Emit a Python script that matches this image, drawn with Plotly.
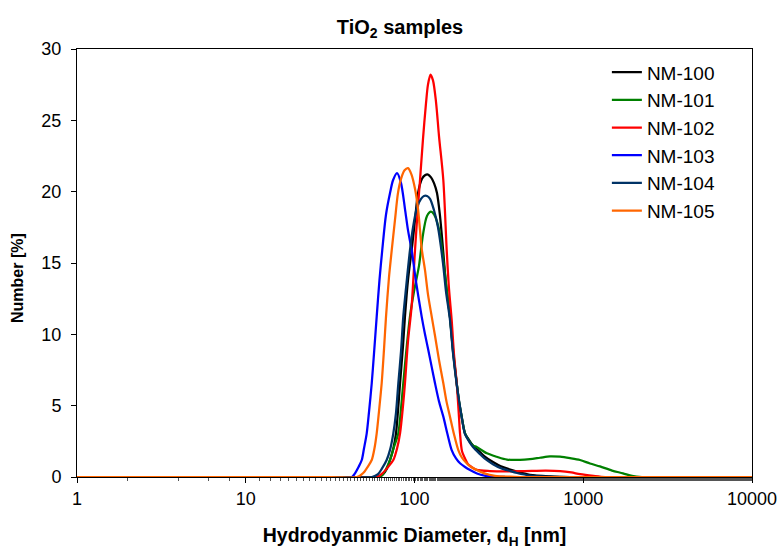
import plotly.graph_objects as go

# Hydrodynamic diameter (nm) and number distribution (%) for each TiO2 sample
nm100_d = [1, 40, 60.0, 65.1, 68.7, 71.6, 74.9, 77.7, 79.8, 82.1, 85.5, 87.8, 91.5, 96.2, 100.7, 104.9,
           110.8, 115.4, 120.2, 125.3, 130.5, 135.9, 141.6, 147.5, 153.7, 162.3, 169.1, 177.9, 183.5,
           190.4, 199.2, 210.4, 222.2, 244.4, 260.0, 291.8, 325.0, 405.0, 483.0, 635.0, 835.0, 1200,
           10000]
nm100_n = [0, 0, 0, 0.2, 0.6, 1.19, 2.0, 3.06, 4.6, 6.57, 9.2, 11.24, 13.8, 15.9, 18.0, 19.9,
           20.9, 21.15, 21.2, 21.0, 20.6, 19.9, 18.3, 16.0, 13.5, 11.2, 8.8, 6.57, 5.3,
           4.23, 3.06, 2.6, 2.2, 1.75, 1.45, 1.05, 0.75, 0.38, 0.15, 0.04, 0, 0,
           0]

nm101_d = [1, 45, 62.4, 66.0, 71.6, 75.6, 80.2, 83.2, 85.8, 89.7, 94.0, 99.3, 106.3, 112.3, 118.6, 125.3,
           130.5, 135.9, 141.6, 149.6, 155.8, 162.3, 169.1, 177.9, 183.5, 190.4, 199.2, 210.4, 222.2,
           233.7, 268.6, 307.0, 353.0, 422.0, 483.0, 554.0, 635.0, 728.0, 835.0, 957.0, 1096, 1257,
           1481, 1720, 1945, 2229, 3000, 10000]
nm101_n = [0, 0, 0, 0.3, 1.19, 2.1, 3.06, 4.8, 6.57, 9.0, 11.24, 13.0, 14.8, 17.0, 18.3, 18.6,
           18.4, 17.9, 17.0, 14.8, 13.0, 11.24, 9.0, 6.57, 5.3, 4.23, 3.06, 2.55, 2.2,
           2.1, 1.66, 1.42, 1.22, 1.2, 1.25, 1.35, 1.45, 1.42, 1.32, 1.19, 0.95, 0.74,
           0.45, 0.26, 0.08, 0, 0, 0]

nm102_d = [1, 40, 60.0, 65.1, 69.7, 74.9, 78.8, 82.1, 85.5, 87.8, 91.5, 96.2, 100.7, 104.9, 107.8, 112.3,
           117.0, 120.2, 124.4, 128.7, 134.1, 139.7, 148.2, 155.2, 160.1, 166.1, 171.4, 177.9, 183.5,
           186.1, 191.2, 199.2, 207.5, 218.0, 234.0, 280.0, 350.0, 450.0, 600.0, 730.0, 850.0, 957.0,
           1150, 1350, 1800, 10000]
nm102_n = [0, 0, 0, 0.3, 0.7, 1.19, 2.0, 3.06, 5.0, 6.57, 9.5, 12.0, 15.9, 19.0, 20.8, 23.7,
           26.2, 27.5, 28.2, 27.8, 26.3, 23.9, 20.8, 15.9, 13.2, 11.0, 8.6, 6.57, 4.2,
           3.06, 1.8, 1.3, 0.9, 0.7, 0.5, 0.42, 0.4, 0.42, 0.45, 0.42, 0.32, 0.2,
           0.08, 0, 0, 0]

nm103_d = [1, 30, 42.6, 44.4, 46.6, 48.7, 50.2, 52.1, 53.8, 55.8, 57.5, 59.7, 62.0, 64.4, 67.8, 71.6,
           74.6, 78.8, 83.2, 87.8, 91.5, 96.2, 102.1, 110.3, 115.4, 120.7, 126.5, 132.3, 139.7,
           148.2, 156.9, 166.1, 176.2, 186.1, 199.2, 213.3, 234.6, 260.0, 300.0, 345.0, 500, 10000]
nm103_n = [0, 0, 0, 0.26, 0.7, 1.19, 2.0, 3.06, 4.6, 6.57, 8.6, 11.24, 13.8, 15.9, 18.4, 19.9,
           20.8, 21.3, 20.6, 18.8, 17.3, 15.9, 13.7, 11.24, 10.0, 8.9, 7.7, 6.57, 5.3,
           4.23, 3.0, 1.89, 1.3, 0.96, 0.7, 0.49, 0.25, 0.1, 0.02, 0, 0, 0]

nm104_d = [1, 38, 56.0, 60.8, 64.2, 68.4, 71.6, 74.9, 77.7, 80.2, 83.2, 85.8, 89.0, 94.0, 98.0, 103.5,
           109.3, 113.8, 118.6, 123.6, 130.5, 137.8, 147.5, 153.7, 162.3, 169.1, 177.9, 190.4, 199.2,
           210.4, 222.2, 244.4, 260.0, 291.8, 325.0, 368.0, 405.0, 483.0, 635.0, 728.0, 1000, 10000]
nm104_n = [0, 0, 0, 0.2, 0.6, 1.19, 1.9, 3.06, 4.5, 6.57, 8.8, 11.24, 13.2, 15.9, 17.5, 18.9,
           19.5, 19.7, 19.7, 19.5, 18.7, 17.5, 15.0, 13.0, 11.0, 8.7, 6.5, 4.2, 3.0,
           2.5, 2.1, 1.6, 1.3, 0.9, 0.62, 0.42, 0.28, 0.1, 0.02, 0, 0, 0]

nm105_d = [1, 32, 45.7, 49.5, 52.7, 55.8, 57.9, 59.7, 61.6, 63.9, 66.0, 67.8, 70.6, 73.3, 76.6, 79.8,
           83.2, 87.3, 91.5, 96.0, 100.7, 104.9, 107.8, 110.3, 115.4, 120.2, 126.5, 132.3, 139.7,
           148.2, 154.7, 162.3, 171.4, 181.8, 191.2, 203.9, 216.2, 233.7, 260.0, 300.0, 368.0,
           422.0, 600, 10000]
nm105_n = [0, 0, 0, 0.26, 0.7, 1.19, 2.0, 3.06, 4.6, 6.57, 9.0, 11.24, 14.0, 15.9, 18.0, 19.9,
           20.9, 21.5, 21.65, 21.2, 20.2, 18.8, 17.3, 16.0, 14.5, 12.8, 11.24, 9.9, 8.2,
           6.57, 5.3, 4.23, 3.0, 1.89, 1.35, 0.96, 0.7, 0.49, 0.25, 0.08, 0.02,
           0, 0, 0]

samples = ["NM-100", "NM-101", "NM-102", "NM-103", "NM-104", "NM-105"]
diameters = [nm100_d, nm101_d, nm102_d, nm103_d, nm104_d, nm105_d]
numbers = [nm100_n, nm101_n, nm102_n, nm103_n, nm104_n, nm105_n]
colors = ["#000000", "#008000", "#FF0000", "#0000FF", "#003366", "#FF6600"]

x_ticks = [1, 10, 100, 1000, 10000]
y_ticks = [0, 5, 10, 15, 20, 25, 30]

FONT = "Arial, Liberation Sans, sans-serif"

fig = go.Figure()
for name, d, n, c in zip(samples, diameters, numbers, colors):
    fig.add_trace(go.Scatter(
        x=d, y=n, name=name, mode="lines", legendgroup=name, cliponaxis=False,
        line=dict(color=c, width=2.25, shape="spline", smoothing=0.8),
    ))

fig.update_layout(
    width=782, height=549,
    margin=dict(l=77, r=30, t=49, b=72, autoexpand=False),
    paper_bgcolor="white", plot_bgcolor="white",
    font=dict(family=FONT, size=18, color="black"),
    title=dict(text="<b>TiO<sub>2</sub> samples</b>", x=400 / 782, xanchor="center",
               y=1 - 27 / 549, yanchor="middle", font=dict(size=20)),
    legend=dict(x=0.785, y=0.99, xanchor="left", yanchor="top",
                font=dict(size=19), bgcolor="rgba(0,0,0,0)",
                traceorder="grouped", tracegroupgap=0, itemwidth=30),
    showlegend=True,
)

# y-axis title sits a little below the middle of the axis
fig.add_annotation(
    text="<b>Number [%]</b>", textangle=-90, showarrow=False,
    xref="paper", yref="paper", x=-0.0874, y=0.465,
    xanchor="center", yanchor="middle", font=dict(size=16),
)

fig.update_xaxes(
    type="log", range=[0, 4], tickvals=x_ticks, ticktext=[str(v) for v in x_ticks],
    showgrid=False, zeroline=False, automargin=False,
    showline=True, linecolor="black", linewidth=1, mirror=True,
    ticks="outside", ticklen=5, tickcolor="black",
    minor=dict(ticks="outside", ticklen=3, tickcolor="#555555", showgrid=False),
    layer="below traces",
    title=dict(text="<b>Hydrodyanmic Diameter, d<sub>H</sub> [nm]</b>", font=dict(size=19.5), standoff=22),
)
fig.update_yaxes(
    range=[0, 30], tickvals=y_ticks,
    showgrid=False, zeroline=False, automargin=False,
    showline=True, linecolor="black", linewidth=1, mirror=True,
    ticks="outside", ticklen=5, tickcolor="black", ticklabelstandoff=6,
    layer="below traces",
)

fig.write_html("out.html")
